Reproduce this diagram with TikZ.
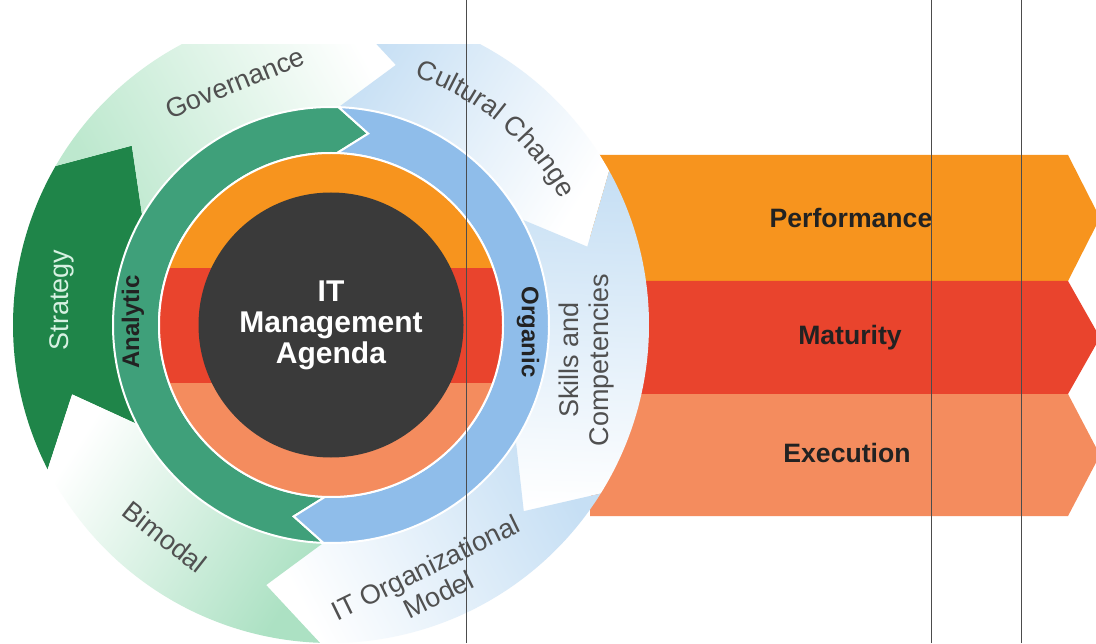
\documentclass[tikz,border=0pt]{standalone}
\usepackage{fontspec}
\setmainfont{Liberation Sans}
\usetikzlibrary{decorations.text}
\definecolor{perfor}{HTML}{F7941E}
\definecolor{matur}{HTML}{E9442D}
\definecolor{execu}{HTML}{F48C5E}
\definecolor{hubgray}{HTML}{3A3A3A}
\definecolor{analyt}{HTML}{3FA07A}
\definecolor{organ}{HTML}{8FBDEA}
\definecolor{stratgreen}{HTML}{1F8549}
\definecolor{govgreen}{HTML}{BDE8CE}
\definecolor{bimogreen}{HTML}{ACE1C3}
\definecolor{paleblue}{HTML}{C6DFF4}
\definecolor{labgray}{HTML}{505050}
\definecolor{inkdark}{HTML}{222222}
\tikzstyle{ringlabel} = [text=labgray, font=\fontsize{13.5}{15}\selectfont, align=center, inner sep=0pt]
\tikzstyle{innerlabel} = [text=inkdark, font=\bfseries\fontsize{12}{13}\selectfont, inner sep=0pt]
\tikzstyle{bandlabel} = [text=inkdark, font=\bfseries\fontsize{13.3}{14}\selectfont]
\tikzstyle{sep} = [draw=white, line width=1pt]
\tikzstyle{scanline} = [draw=black!70, line width=0.5pt]
% ring arrow: inner radius, outer radius, tail angle, head angle, head depth
\newcommand{\ringarrow}[5]{(#3:#2) arc[start angle=#3, end angle=#4, radius=#2]
  -- ({#4-#5}:{(#1+#2)/2}) -- (#4:#1) arc[start angle=#4, end angle=#3, radius=#1]
  -- ({#3-#5}:{(#1+#2)/2}) -- cycle}

\begin{document}
\begin{tikzpicture}[x=0.5pt, y=0.5pt]

    \useasboundingbox (0,0) rectangle (1096,643);
    \fill[white] (0,0) rectangle (1096,643);

    % outcome bands behind the wheel
    \fill[perfor] (590,488) -- (1068,488) -- (1100,425) -- (1068,362) -- (590,362) -- cycle;
    \fill[matur] (590,362) -- (1068,362) -- (1100,305.5) -- (1068,249) -- (590,249) -- cycle;
    \fill[execu] (590,249) -- (1068,249) -- (1100,188) -- (1068,127) -- (590,127) -- cycle;

    \begin{scope}
    \clip (0,0) rectangle (1096,598);
    \begin{scope}[shift={(331,318)}]
        % outer ring
        \fill[stratgreen] \ringarrow{218}{318}{207}{150}{12};
        \shade[top color=white, bottom color=govgreen, shading angle=299] \ringarrow{218}{318}{150}{88}{12};
        \shade[top color=white, bottom color=paleblue, shading angle=238] \ringarrow{218}{318}{88}{29}{12};
        \shade[top color=white, bottom color=paleblue, shading angle=178] \ringarrow{218}{318}{29}{-32}{12};
        \shade[top color=white, bottom color=paleblue, shading angle=118] \ringarrow{218}{318}{-32}{-92}{12};
        \shade[top color=white, bottom color=bimogreen, shading angle=57] \ringarrow{218}{318}{268}{207}{12};

        % middle ring
        \fill[analyt, sep] \ringarrow{172}{218}{268}{88}{9};
        \fill[organ, sep] \ringarrow{172}{218}{88}{-92}{9};

        % inner disk
        \begin{scope}
            \clip (0,0) circle[radius=172];
            \fill[perfor] (-180,57) rectangle (180,180);
            \fill[matur] (-180,-58) rectangle (180,57);
            \fill[execu] (-180,-180) rectangle (180,-58);
        \end{scope}
        \draw[sep] (0,0) circle[radius=172];
        \fill[hubgray] (0,0) circle[radius=132.5];

        \path[decorate, decoration={text along path, text align=center,
            text={|\fontsize{13.5}{15}\selectfont\color{labgray}|Cultural Change}}]
            (71:262) arc[start angle=71, end angle=29, radius=262];
    \end{scope}
    \end{scope}

    \node[text=white, font=\bfseries\fontsize{15}{15.5}\selectfont, align=center] (agenda) at (331,318) {IT\\Management\\Agenda};

    \node[innerlabel, rotate=90] (analytic) at (133,321) {Analytic};
    \node[innerlabel, rotate=-90] (organic) at (528,311) {Organic};

    \node[ringlabel, text=govgreen!60!white, rotate=90] (strategy) at (62,343) {Strategy};
    \node[ringlabel, rotate=22] (governance) at (235,560) {Governance};
    \node[ringlabel, rotate=90] (skills) at (587,283) {Skills and\\Competencies};
    \node[ringlabel, rotate=26] (itorg) at (432,62) {IT Organizational\\Model};
    \node[ringlabel, rotate=-38] (bimodal) at (165,106) {Bimodal};

    \node[bandlabel] (perf) at (851,425) {Performance};
    \node[bandlabel] (matur) at (850,305) {Maturity};
    \node[bandlabel] (exec) at (847,190) {Execution};

    \draw[scanline] (466,0) -- (466,643);
    \draw[scanline] (931,0) -- (931,643);
    \draw[scanline] (1021,0) -- (1021,643);

\end{tikzpicture}
\end{document}
